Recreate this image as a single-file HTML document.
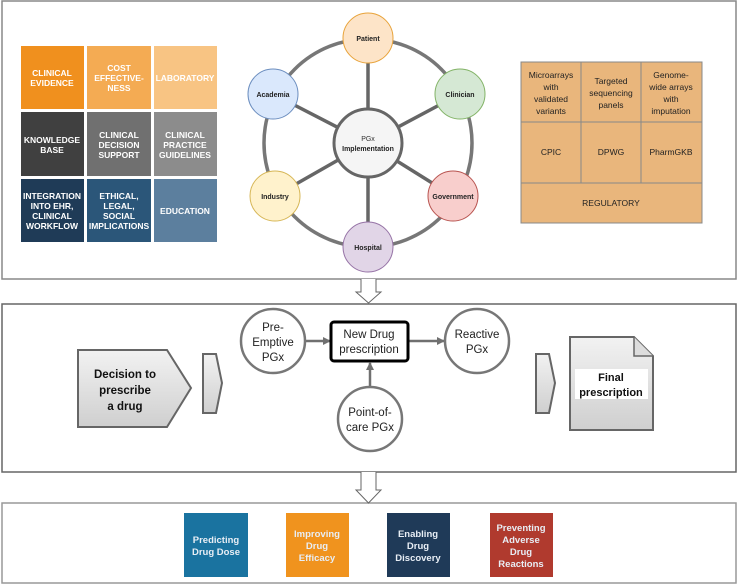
<!DOCTYPE html>
<html><head><meta charset="utf-8"><style>
body{margin:0;background:#fff}
svg{display:block;font-family:"Liberation Sans",Arial,sans-serif}
</style></head><body>
<svg width="738" height="585" viewBox="0 0 738 585" xmlns="http://www.w3.org/2000/svg">
<defs>
<linearGradient id="g" x1="0" y1="0" x2="0" y2="1"><stop offset="0" stop-color="#f2f2f2"/><stop offset="1" stop-color="#cfcfcf"/></linearGradient>
<marker id="ah" markerWidth="8" markerHeight="8" refX="7" refY="4" orient="auto" markerUnits="userSpaceOnUse"><path d="M0,0 L8,4 L0,8 Z" fill="#707070"/></marker>
</defs>
<rect x="2" y="1" width="734" height="278" fill="#fff" stroke="#888" stroke-width="1.5"/>
<rect x="2" y="304" width="734" height="168" fill="#fff" stroke="#666" stroke-width="1.5"/>
<rect x="2" y="503" width="734" height="80" fill="#fff" stroke="#999" stroke-width="1.5"/>
<path d="M361,279 V292 H356 L368.5,303 L381,292 H376 V279" fill="#fff" stroke="#666" stroke-width="1"/>
<path d="M361,472 V490 H356 L368.5,503 L381,490 H376 V472" fill="#fff" stroke="#666" stroke-width="1"/>
<g font-size="8.5" font-weight="bold" fill="#fff" text-anchor="middle">
<rect x="21" y="46" width="63" height="63" fill="#f0901e"/>
<rect x="87" y="46" width="64" height="63" fill="#f4ab53"/>
<rect x="154" y="46" width="63" height="63" fill="#f8c483"/>
<rect x="21" y="112" width="63" height="64" fill="#404040"/>
<rect x="87" y="112" width="64" height="64" fill="#707070"/>
<rect x="154" y="112" width="63" height="64" fill="#8c8c8c"/>
<rect x="21" y="179" width="63" height="63" fill="#1f3b57"/>
<rect x="87" y="179" width="64" height="63" fill="#2b5679"/>
<rect x="154" y="179" width="63" height="63" fill="#5c7f9e"/>
<text x="52" y="76">CLINICAL</text><text x="52" y="86">EVIDENCE</text>
<text x="119" y="71">COST</text><text x="119" y="81">EFFECTIVE-</text><text x="119" y="91">NESS</text>
<text x="185" y="81">LABORATORY</text>
<text x="52" y="143">KNOWLEDGE</text><text x="52" y="153">BASE</text>
<text x="119" y="138">CLINICAL</text><text x="119" y="148">DECISION</text><text x="119" y="158">SUPPORT</text>
<text x="185" y="138">CLINICAL</text><text x="185" y="148">PRACTICE</text><text x="185" y="158">GUIDELINES</text>
<text x="52" y="199">INTEGRATION</text><text x="52" y="209">INTO EHR,</text><text x="52" y="219">CLINICAL</text><text x="52" y="229">WORKFLOW</text>
<text x="119" y="199">ETHICAL,</text><text x="119" y="209">LEGAL,</text><text x="119" y="219">SOCIAL</text><text x="119" y="229">IMPLICATIONS</text>
<text x="185" y="214">EDUCATION</text>
</g>
<circle cx="368" cy="143" r="104" fill="none" stroke="#777" stroke-width="3.5"/>
<g stroke="#666" stroke-width="3.5">
<line x1="368" y1="143" x2="368" y2="38"/><line x1="368" y1="143" x2="368" y2="247"/>
<line x1="368" y1="143" x2="273" y2="94"/><line x1="368" y1="143" x2="460" y2="94"/>
<line x1="368" y1="143" x2="275" y2="196"/><line x1="368" y1="143" x2="453" y2="196"/>
</g>
<circle cx="368" cy="143" r="34" fill="#f5f5f5" stroke="#666" stroke-width="3"/>
<g stroke-width="1">
<circle cx="368" cy="38" r="25" fill="#fde4c8" stroke="#e8a33a"/>
<circle cx="460" cy="94" r="25" fill="#d5e8d4" stroke="#82b366"/>
<circle cx="453" cy="196" r="25" fill="#f8cecc" stroke="#b85450"/>
<circle cx="368" cy="247" r="25" fill="#e1d5e7" stroke="#9673a6"/>
<circle cx="275" cy="196" r="25" fill="#fff2cc" stroke="#d6b656"/>
<circle cx="273" cy="94" r="25" fill="#dae8fc" stroke="#6c8ebf"/>
</g>
<g font-size="7" font-weight="bold" fill="#222" text-anchor="middle">
<text x="368" y="41">Patient</text><text x="460" y="97">Clinician</text><text x="453" y="199">Government</text>
<text x="368" y="250">Hospital</text><text x="275" y="199">Industry</text><text x="273" y="97">Academia</text>
<text x="368" y="141" font-weight="normal" fill="#333">PGx</text><text x="368" y="151">Implementation</text>
</g>
<g fill="#e9b67c" stroke="#888" stroke-width="1">
<rect x="521" y="62" width="60" height="60"/><rect x="581" y="62" width="60" height="60"/><rect x="641" y="62" width="61" height="60"/>
<rect x="521" y="122" width="60" height="61"/><rect x="581" y="122" width="60" height="61"/><rect x="641" y="122" width="61" height="61"/>
<rect x="521" y="183" width="181" height="40"/>
</g>
<g font-size="8.5" fill="#222" text-anchor="middle">
<text x="551" y="78">Microarrays</text><text x="551" y="90">with</text><text x="551" y="102">validated</text><text x="551" y="114">variants</text>
<text x="611" y="84">Targeted</text><text x="611" y="96">sequencing</text><text x="611" y="108">panels</text>
<text x="671" y="78">Genome-</text><text x="671" y="90">wide arrays</text><text x="671" y="102">with</text><text x="671" y="114">imputation</text>
<text x="551" y="155">CPIC</text><text x="611" y="155">DPWG</text><text x="671" y="155">PharmGKB</text>
<text x="611" y="206">REGULATORY</text>
</g>
<path d="M78,350 H167 L191,388 L167,427 H78 Z" fill="url(#g)" stroke="#666" stroke-width="2"/>
<g font-size="11.5" font-weight="bold" fill="#111" text-anchor="middle">
<text x="125" y="378">Decision to</text><text x="125" y="394">prescribe</text><text x="125" y="410">a drug</text>
</g>
<path d="M203,354 H216 L222,383 L216,413 H203 Z" fill="url(#g)" stroke="#666" stroke-width="2"/>
<path d="M536,354 H549 L555,383 L549,413 H536 Z" fill="url(#g)" stroke="#666" stroke-width="2"/>
<path d="M570,337 H634 L653,356 V430 H570 Z" fill="url(#g)" stroke="#666" stroke-width="2"/>
<path d="M634,337 V356 H653" fill="#ddd" stroke="#666" stroke-width="1.5"/>
<rect x="575" y="369" width="73" height="30" fill="#fff"/>
<g font-size="11" font-weight="bold" fill="#111" text-anchor="middle">
<text x="611" y="381">Final</text><text x="611" y="396">prescription</text>
</g>
<g stroke="#707070" stroke-width="2.5" fill="none">
<line x1="304" y1="341" x2="330" y2="341" marker-end="url(#ah)"/>
<line x1="408" y1="341" x2="444" y2="341" marker-end="url(#ah)"/>
<line x1="370" y1="387" x2="370" y2="363" marker-end="url(#ah)"/>
</g>
<g fill="#fff" stroke="#777" stroke-width="2.5">
<ellipse cx="273" cy="341" rx="32" ry="32"/>
<ellipse cx="477" cy="341" rx="32" ry="32"/>
<ellipse cx="370" cy="419" rx="32" ry="32"/>
</g>
<rect x="331" y="322" width="77" height="39" rx="3" fill="#fff" stroke="#000" stroke-width="3"/>
<g font-size="11.5" fill="#222" text-anchor="middle">
<text x="273" y="331">Pre-</text><text x="273" y="346">Emptive</text><text x="273" y="361">PGx</text>
<text x="369" y="338">New Drug</text><text x="369" y="353">prescription</text>
<text x="477" y="338">Reactive</text><text x="477" y="353">PGx</text>
<text x="370" y="416">Point-of-</text><text x="370" y="431">care PGx</text>
</g>
<rect x="184" y="513" width="64" height="64" fill="#1a73a0"/>
<rect x="286" y="513" width="63" height="64" fill="#f0931e"/>
<rect x="387" y="513" width="63" height="64" fill="#1f3a58"/>
<rect x="490" y="513" width="63" height="64" fill="#b03a2e"/>
<g font-size="9.5" font-weight="bold" fill="#e8eef5" text-anchor="middle">
<text x="216" y="543">Predicting</text><text x="216" y="555">Drug Dose</text>
<text x="317" y="537">Improving</text><text x="317" y="549">Drug</text><text x="317" y="561">Efficacy</text>
<text x="418" y="537">Enabling</text><text x="418" y="549">Drug</text><text x="418" y="561">Discovery</text>
<text x="521" y="531">Preventing</text><text x="521" y="543">Adverse</text><text x="521" y="555">Drug</text><text x="521" y="567">Reactions</text>
</g>
</svg>
</body></html>
